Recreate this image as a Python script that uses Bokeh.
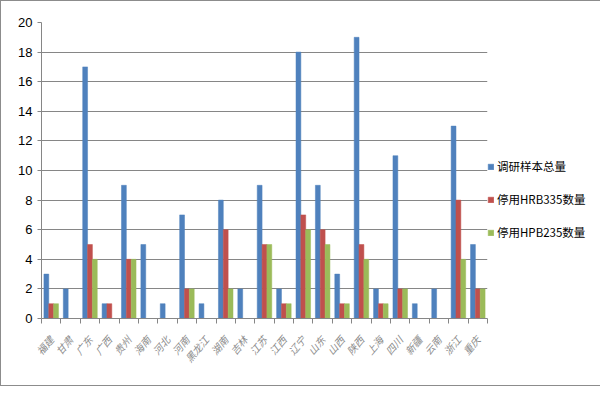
import math
from bokeh.plotting import figure
from bokeh.models import FixedTicker, Legend, LegendItem, ColumnDataSource, Range1d
from bokeh.embed import file_html
from bokeh.resources import INLINE

provinces = ["福建", "甘肃", "广东", "广西", "贵州", "海南", "河北", "河南", "黑龙江", "湖南",
             "吉林", "江苏", "江西", "辽宁", "山东", "山西", "陕西", "上海", "四川", "新疆",
             "云南", "浙江", "重庆"]
total = [3, 2, 17, 1, 9, 5, 1, 7, 1, 8, 2, 9, 2, 18, 9, 3, 19, 2, 11, 1, 2, 13, 5]
hrb335 = [1, 0, 5, 1, 4, 0, 0, 2, 0, 6, 0, 5, 1, 7, 6, 1, 5, 1, 2, 0, 0, 8, 2]
hpb235 = [1, 0, 4, 0, 4, 0, 0, 2, 0, 2, 0, 5, 1, 6, 5, 1, 4, 1, 2, 0, 0, 4, 2]
series_names = ["调研样本总量", "停用HRB335数量", "停用HPB235数量"]
colors = ["#4F81BD", "#C0504D", "#9BBB59"]
y_ticks = list(range(0, 21, 2))

n = len(provinces)
centers = [i + 0.5 for i in range(n)]

p = figure(frame_width=446, frame_height=296, output_backend="svg", toolbar_location=None,
           x_range=Range1d(0, n), y_range=Range1d(0, 20),
           min_border_left=40, min_border_right=92, min_border_top=21, min_border_bottom=67)
p.styles = {"border": "1px solid #8c8c8c"}
p.outline_line_color = None

bw = 0.25
offsets = [-bw, 0, bw]
renderers = []
for vals, off, col in zip([total, hrb335, hpb235], offsets, colors):
    src = ColumnDataSource(dict(x=[c + off for c in centers], top=vals))
    r = p.vbar(x="x", top="top", width=bw, source=src, fill_color=col, line_color=col, line_width=0.5)
    renderers.append(r)

# y axis
p.yaxis.ticker = FixedTicker(ticks=y_ticks)
p.yaxis.axis_line_color = "#868686"
p.yaxis.major_tick_line_color = "#868686"
p.yaxis.major_tick_in = 0
p.yaxis.major_tick_out = 4
p.yaxis.minor_tick_line_color = None
p.yaxis.major_label_text_font = "Liberation Sans"
p.yaxis.major_label_text_font_size = "13px"
p.yaxis.major_label_text_color = "#000000"
p.yaxis.major_label_standoff = 5
p.ygrid.ticker = FixedTicker(ticks=y_ticks)
p.ygrid.grid_line_color = "#868686"
p.ygrid.grid_line_width = 1

# x axis
p.xaxis.ticker = FixedTicker(ticks=centers, minor_ticks=list(range(n + 1)))
p.xaxis.major_label_overrides = {c: name for c, name in zip(centers, provinces)}
p.xaxis.major_label_orientation = 0.87
p.xaxis.major_tick_line_color = None
p.xaxis.minor_tick_line_color = "#868686"
p.xaxis.minor_tick_in = 0
p.xaxis.minor_tick_out = 5
p.xaxis.axis_line_color = "#868686"
p.xaxis.major_label_text_font = "Noto Sans CJK SC"
p.xaxis.major_label_text_font_size = "10px"
p.xaxis.major_label_text_color = "#8c8c8c"
p.xaxis.major_label_text_font_style = "italic"
p.xaxis.major_label_standoff = 13
p.xgrid.grid_line_color = None

legend = Legend(items=[LegendItem(label=nm, renderers=[r]) for nm, r in zip(series_names, renderers)],
                location=(0, 76), orientation="vertical")
legend.glyph_width = 7
legend.glyph_height = 7
legend.label_height = 20
legend.spacing = 13
legend.padding = 0
legend.margin = 0
legend.label_standoff = 3
legend.label_text_font = "Noto Sans CJK SC"
legend.label_text_font_size = "11.5px"
legend.label_text_color = "#000000"
legend.border_line_color = None
legend.background_fill_alpha = 0
p.add_layout(legend, "right")

open("out.html", "w").write(file_html(p, INLINE))
